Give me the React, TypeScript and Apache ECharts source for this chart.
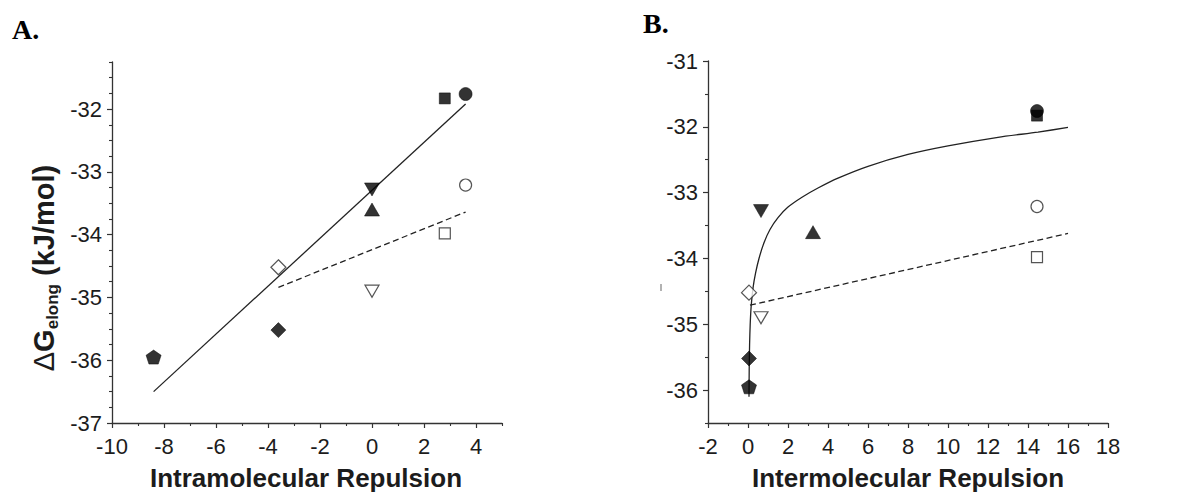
import React, { useEffect, useRef } from "react";
import * as echarts from "echarts";

// Compounds, in drawing order (the square is drawn before the circle so the circle sits on top).
const compounds = [
  "filledSquare",
  "filledCircle",
  "openCircle",
  "openSquare",
  "filledDownTriangle",
  "filledUpTriangle",
  "openDiamond",
  "openDownTriangle",
  "filledDiamond",
  "filledPentagon",
];

// Free energy of elongation (kJ/mol), shared by both panels.
const dGelong = [-31.83, -31.76, -33.21, -33.98, -33.28, -33.6, -34.52, -34.9, -35.52, -35.95];
// Panel A abscissa: intramolecular repulsion.
const intraRepulsion = [2.8, 3.6, 3.6, 2.8, 0, 0, -3.6, 0, -3.6, -8.4];
// Panel B abscissa: intermolecular repulsion.
const interRepulsion = [14.45, 14.45, 14.45, 14.45, 0.65, 3.25, 0.05, 0.65, 0.05, 0.05];

// Fits, panel A.
const fitASolid = [
  [-8.4, -36.5],
  [3.6, -31.92],
];
const fitADashed = [
  [-3.6, -34.84],
  [3.6, -33.64],
];
// Fits, panel B.
const fitBCurve = [
  [0.05, -36.1],
  [0.06, -35.7],
  [0.08, -35.3],
  [0.11, -35.0],
  [0.16, -34.72],
  [0.25, -34.45],
  [0.38, -34.22],
  [0.55, -34.0],
  [0.8, -33.76],
  [1.1, -33.56],
  [1.5, -33.38],
  [2.0, -33.22],
  [2.7, -33.07],
  [3.5, -32.93],
  [4.5, -32.78],
  [6.0, -32.6],
  [8.0, -32.42],
  [10.0, -32.29],
  [12.5, -32.16],
  [14.5, -32.08],
  [16.0, -32.01],
];
const fitBDashed = [
  [0.1, -34.71],
  [16.0, -33.62],
];

// Tick labels / tick positions.
const intraTicks = [-10, -8, -6, -4, -2, 0, 2, 4];
const intraMinorTicks = [-9, -7, -5, -3, -1, 1, 3, 5];
const dGTicksA = [-37, -36, -35, -34, -33, -32];
const dGMinorTicksA = [
  -36.75, -36.5, -36.25, -35.75, -35.5, -35.25, -34.75, -34.5, -34.25, -33.75, -33.5, -33.25,
  -32.75, -32.5, -32.25, -31.75, -31.5, -31.25,
];
const interTicks = [-2, 0, 2, 4, 6, 8, 10, 12, 14, 16, 18];
const interMinorTicks = [-1, 1, 3, 5, 7, 9, 11, 13, 15, 17];
const dGTicksB = [-36, -35, -34, -33, -32, -31];
const dGMinorTicksB = [-36.5, -35.5, -34.5, -33.5, -32.5, -31.5];

const INK = "#1c1c1c";
const SANS = '"Liberation Sans", Arial, Helvetica, sans-serif';
const PENTAGON = "path://M50,0 L100,37 L81,100 L19,100 L0,37 Z";

// Marker appearance per compound.
const markerStyle: Record<string, any> = {
  filledSquare: { symbol: "rect", symbolSize: [11, 11], filled: true },
  filledCircle: { symbol: "circle", symbolSize: 13, filled: true },
  openCircle: { symbol: "circle", symbolSize: 12, filled: false },
  openSquare: { symbol: "rect", symbolSize: [11, 11], filled: false },
  filledDownTriangle: { symbol: "triangle", symbolSize: [15, 13], symbolRotate: 180, filled: true },
  filledUpTriangle: { symbol: "triangle", symbolSize: [15, 13], filled: true },
  openDiamond: { symbol: "diamond", symbolSize: [15, 15], filled: false },
  openDownTriangle: { symbol: "triangle", symbolSize: [14, 12], symbolRotate: 180, filled: false },
  filledDiamond: { symbol: "diamond", symbolSize: [15, 15], filled: true },
  filledPentagon: { symbol: PENTAGON, symbolSize: [15, 14], filled: true },
};

function pointsFor(xs: number[]) {
  return compounds.map((name, i) => {
    const m = markerStyle[name];
    return {
      name,
      value: [xs[i], dGelong[i]],
      symbol: m.symbol,
      symbolSize: m.symbolSize,
      symbolRotate: m.symbolRotate || 0,
      itemStyle: m.filled
        ? { color: "#000", borderColor: "#000", borderWidth: 0.6 }
        : { color: "#fff", borderColor: "#2a2a2a", borderWidth: 1.2 },
    };
  });
}

function mainAxis(gridIndex: number, position: string, min: number, max: number, ticks: number[], margin: number) {
  return {
    type: "value",
    gridIndex,
    position,
    min,
    max,
    splitLine: { show: false },
    axisLine: { show: true, onZero: false, lineStyle: { color: "#333", width: 1.3 } },
    axisTick: { show: true, inside: false, length: 5, customValues: ticks, lineStyle: { color: "#333", width: 1.2 } },
    axisLabel: {
      show: true,
      customValues: ticks,
      margin,
      fontSize: 22,
      fontFamily: SANS,
      color: INK,
    },
  };
}

function minorAxis(gridIndex: number, position: string, min: number, max: number, ticks: number[]) {
  return {
    type: "value",
    gridIndex,
    position,
    offset: 0,
    min,
    max,
    splitLine: { show: false },
    axisLine: { show: false, onZero: false },
    axisTick: { show: true, inside: false, length: 3, customValues: ticks, lineStyle: { color: "#333", width: 1.1 } },
    axisLabel: { show: false },
  };
}

function fitLine(xAxisIndex: number, yAxisIndex: number, data: number[][], dashed: boolean, smooth: number | boolean = false) {
  return {
    type: "line",
    xAxisIndex,
    yAxisIndex,
    data,
    smooth,
    showSymbol: false,
    silent: true,
    z: 2,
    lineStyle: { color: "#222", width: 1.3, type: dashed ? [6, 3.5] : "solid" },
  };
}

const option = {
  animation: false,
  backgroundColor: "#fff",
  grid: [
    { left: 112, top: 62, width: 390, height: 361, containLabel: false },
    { left: 708, top: 61, width: 400, height: 362, containLabel: false },
  ],
  xAxis: [
    mainAxis(0, "bottom", -10, 5, intraTicks, 12),
    minorAxis(0, "bottom", -10, 5, intraMinorTicks),
    mainAxis(1, "bottom", -2, 18, interTicks, 12),
    minorAxis(1, "bottom", -2, 18, interMinorTicks),
  ],
  yAxis: [
    mainAxis(0, "left", -37, -31.25, dGTicksA, 10),
    minorAxis(0, "left", -37, -31.25, dGMinorTicksA),
    mainAxis(1, "left", -36.5, -31, dGTicksB, 10),
    minorAxis(1, "left", -36.5, -31, dGMinorTicksB),
  ],
  series: [
    fitLine(0, 0, fitASolid, false),
    fitLine(0, 0, fitADashed, true),
    fitLine(2, 2, fitBCurve, false, 0.25),
    fitLine(2, 2, fitBDashed, true),
    {
      type: "scatter",
      xAxisIndex: 0,
      yAxisIndex: 0,
      z: 3,
      data: pointsFor(intraRepulsion),
    },
    {
      type: "scatter",
      xAxisIndex: 2,
      yAxisIndex: 2,
      z: 3,
      data: pointsFor(interRepulsion),
    },
  ],
  graphic: [
    {
      type: "text",
      left: 12,
      top: 15,
      style: { text: "A.", font: 'bold 28px "Liberation Serif", "Times New Roman", serif', fill: "#000" },
    },
    {
      type: "text",
      left: 643,
      top: 9,
      style: { text: "B.", font: 'bold 28px "Liberation Serif", "Times New Roman", serif', fill: "#000" },
    },
    {
      type: "text",
      x: 306,
      y: 478,
      style: {
        text: "Intramolecular Repulsion",
        font: `bold 26px ${SANS}`,
        fill: INK,
        align: "center",
        verticalAlign: "middle",
        textAlign: "center",
        textVerticalAlign: "middle",
      },
    },
    {
      type: "text",
      x: 908,
      y: 478,
      style: {
        text: "Intermolecular Repulsion",
        font: `bold 26px ${SANS}`,
        fill: INK,
        align: "center",
        verticalAlign: "middle",
        textAlign: "center",
        textVerticalAlign: "middle",
      },
    },
    {
      type: "text",
      x: 44,
      y: 268,
      rotation: Math.PI / 2,
      style: {
        text: "{d|Δ}{m|G}{s|elong}{m| (kJ/mol)}",
        align: "center",
        verticalAlign: "middle",
        textAlign: "center",
        textVerticalAlign: "middle",
        fill: INK,
        rich: {
          d: { fontSize: 29, fontWeight: "normal", fontFamily: SANS, lineHeight: 34, fill: INK, color: INK },
          m: { fontSize: 29, fontWeight: "bold", fontFamily: SANS, lineHeight: 34, fill: INK, color: INK },
          s: {
            fontSize: 17,
            fontWeight: "bold",
            fontFamily: SANS,
            lineHeight: 18,
            verticalAlign: "bottom",
            fill: INK,
            color: INK,
          },
        },
      },
    },
    {
      type: "line",
      shape: { x1: 661, y1: 284, x2: 661, y2: 291 },
      style: { stroke: "#999", lineWidth: 1.5 },
    },
  ],
};

export default function App() {
  const ref = useRef<HTMLDivElement>(null);
  useEffect(() => {
    if (!ref.current) return;
    const chart = echarts.init(ref.current, undefined, { renderer: "svg" });
    chart.setOption(option as any);
    return () => chart.dispose();
  }, []);
  return (
    <div
      ref={ref}
      style={{ position: "fixed", left: 0, top: 0, width: 1183, height: 498, background: "#fff" }}
    />
  );
}
